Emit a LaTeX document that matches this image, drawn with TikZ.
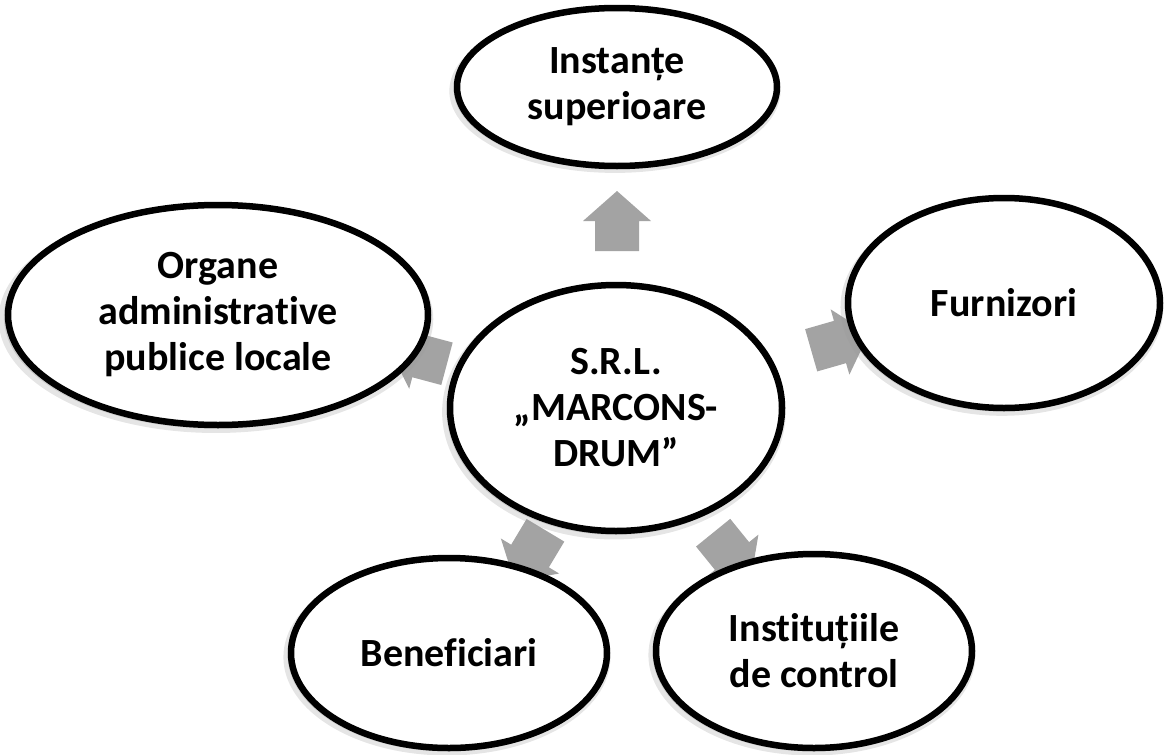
\documentclass[tikz,border=0pt]{standalone}
\usepackage{fontspec}
\setmainfont{Carlito}[Ligatures=NoCommon]
\usetikzlibrary{shapes.geometric,shadows}
\tikzset{
  ell/.style={ellipse, draw=black, line width=6.5pt, fill=white, inner sep=0pt,
    align=center, font=\fontsize{40}{46}\selectfont\bfseries,
    general shadow={shadow scale=1.035, shadow xshift=-2pt, shadow yshift=-4pt, fill=black!40, opacity=0.25},
    general shadow={shadow scale=1.015, shadow xshift=-1pt, shadow yshift=-2pt, fill=black!40, opacity=0.35}},
  arrowfill/.style={fill=black!36}
}
\begin{document}
\begin{tikzpicture}[x=1pt,y=-1pt]
\useasboundingbox (0,0) rectangle (1165,755);
% block arrows (behind ellipses)
\foreach \px/\py/\ang in {617/221/90, 418/356/165, 840/342/16, 530/556/-121, 732/556/-51}{
  \begin{scope}[shift={(\px,\py)}, rotate=\ang]
    \fill[arrowfill] (-30,-22) -- (0,-22) -- (0,-34) -- (30,0) -- (0,34) -- (0,22) -- (-30,22) -- cycle;
  \end{scope}
}
% ellipses
\node[ell, minimum width=320pt, minimum height=158pt] (top) at (617,87) {Instanțe\\superioare};
\node[ell, minimum width=420pt, minimum height=220pt] (left) at (218,315) {Organe\\administrative\\publice locale};
\node[ell, minimum width=312pt, minimum height=210pt] (right) at (1004,303) {Furnizori};
\node[ell, minimum width=316pt, minimum height=190pt] (bl) at (449,653) {Beneficiari};
\node[ell, minimum width=316pt, minimum height=194pt] (br) at (814,651) {Instituțiile\\de control};
\node[ell, minimum width=332pt, minimum height=246pt] (c) at (616,408) {S.R.L.\\„MARCONS-\\DRUM”};
\end{tikzpicture}
\end{document}
